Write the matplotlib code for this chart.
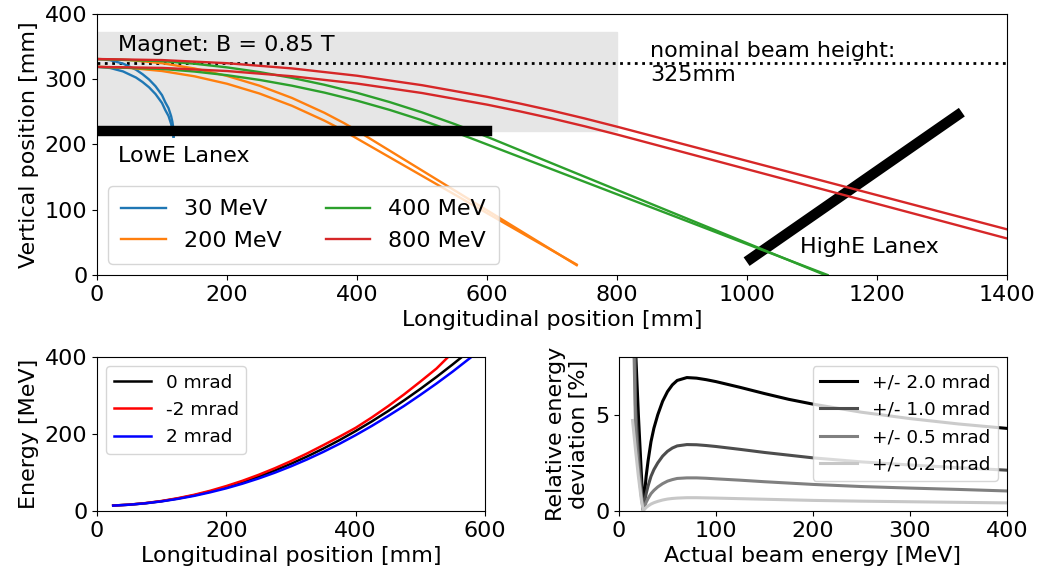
import numpy as np
import matplotlib
matplotlib.use("Agg")
import matplotlib.pyplot as plt
from matplotlib.patches import Rectangle

plt.rcParams["font.size"] = 16
plt.rcParams["font.family"] = ["DejaVu Sans"]

# --- top panel: electron trajectories (two rays per energy) ---
e30_x_hi = [0, 20, 40, 60, 70, 80, 90, 100, 105, 110, 114, 116, 117.5, 118]
e30_y_hi = [331, 329.3, 324.0, 314.6, 307.8, 299.7, 289.3, 275.6, 264.8, 255.7, 243.5, 234.6, 223.9, 212]
e30_x_lo = [0, 20, 40, 60, 70, 80, 90, 100, 105, 110, 114, 116, 117.5]
e30_y_lo = [319, 317.3, 312.0, 302.6, 295.8, 287.7, 277.3, 263.6, 252.8, 243.7, 231.5, 222.6, 211.9]

e200_x_hi = [0, 50, 100, 150, 200, 250, 300, 350, 380, 390, 402, 738]
e200_y_hi = [331, 329.4, 324.6, 316.5, 305.1, 290.1, 271.3, 248.5, 232.8, 227.1, 220, 15]
e200_x_lo = [0, 50, 100, 150, 200, 250, 300, 350, 365, 381, 738]
e200_y_lo = [319, 317.4, 312.6, 304.5, 293.1, 278.1, 259.3, 236.5, 228.8, 220, 16]

e400_x_hi = [0, 100, 150, 200, 250, 300, 350, 400, 450, 500, 550, 580, 1120]
e400_y_hi = [331, 327.8, 323.8, 318.2, 311.0, 302.1, 291.5, 279.2, 265.1, 249.2, 231.4, 220, 0]
e400_x_lo = [0, 100, 150, 200, 250, 300, 350, 400, 450, 500, 548, 1124]
e400_y_lo = [319, 315.8, 311.8, 306.2, 299.0, 290.1, 279.5, 267.2, 253.1, 237.2, 220, 0]

e800_x = [0, 100, 200, 300, 400, 500, 600, 650, 700, 750, 800, 1400]
e800_y_hi = [331, 329.4, 324.6, 316.6, 305.4, 290.9, 273.1, 262.9, 251.9, 240.0, 227.3, 70]
e800_y_lo = [319, 317.4, 312.6, 304.6, 293.4, 278.9, 261.1, 250.9, 239.9, 228.0, 215.3, 56]

magnet_x = [0, 800]
magnet_y = [220, 372]
beam_height = 325
lowe_x = [0, 600]
lowe_y = [220, 220]
highe_x = [1006, 1324]
highe_y = [25, 245]

# --- bottom left: energy vs position on LowE lanex ---
pos_0 = [25, 50, 75, 100, 125, 150, 175, 200, 225, 250, 275, 300, 325, 350,
         375, 400, 425, 450, 475, 500, 525, 550, 565]
en_0 = [14.2, 16.4, 20.2, 25.5, 32.4, 40.7, 50.6, 62.0, 74.9, 89.3, 105.2, 122.7,
        141.6, 162.1, 184.1, 207.7, 232.7, 259.3, 287.4, 317.0, 348.1, 380.7, 401]
pos_m2 = [25, 50, 75, 100, 125, 150, 175, 200, 225, 250, 275, 300, 325, 350,
          375, 400, 425, 450, 475, 500, 525, 543]
en_m2 = [14, 16.5, 20.5, 26, 33.3, 42, 52.5, 64.8, 78.5, 94, 111, 129.5, 149.5,
         171, 193, 216, 243, 272, 303, 336, 370, 400]
pos_p2 = [25, 50, 75, 100, 125, 150, 175, 200, 225, 250, 275, 300, 325, 350,
          375, 400, 425, 450, 475, 500, 525, 550, 579]
en_p2 = [14, 16.3, 20, 25, 31.5, 39.2, 48.5, 59, 71, 84.5, 99.5, 116, 134, 153.5,
         174.5, 197, 221, 246.5, 273, 301.5, 331, 362, 400]

# --- bottom right: relative energy deviation ---
beam_e = [14, 17, 20, 23, 25, 26, 28, 30, 33, 36, 40, 45, 50, 55, 60, 70, 80,
          90, 100, 125, 150, 175, 200, 250, 300, 350, 400]
dev_20 = [60, 8.5, 5.0, 2.0, 0.1, 0.7, 1.8, 2.6, 3.6, 4.3, 5.0, 5.7, 6.2, 6.55,
          6.78, 6.93, 6.9, 6.82, 6.72, 6.42, 6.1, 5.8, 5.55, 5.13, 4.8, 4.52, 4.29]
dev_10 = [30, 5.5, 3.0, 1.2, 0.05, 0.35, 0.9, 1.3, 1.8, 2.15, 2.5, 2.85, 3.1,
          3.27, 3.38, 3.45, 3.44, 3.4, 3.35, 3.2, 3.04, 2.9, 2.76, 2.55, 2.39,
          2.25, 2.12]
dev_05 = [12, 4.5, 2.2, 0.8, 0.03, 0.18, 0.45, 0.65, 0.9, 1.07, 1.25, 1.42, 1.55,
          1.63, 1.69, 1.72, 1.72, 1.7, 1.67, 1.6, 1.52, 1.45, 1.38, 1.27, 1.19,
          1.12, 1.04]
dev_02 = [4.7, 3.2, 1.8, 0.6, 0.02, 0.07, 0.18, 0.26, 0.36, 0.43, 0.5, 0.57,
          0.62, 0.65, 0.67, 0.69, 0.69, 0.68, 0.67, 0.64, 0.61, 0.58, 0.55, 0.51,
          0.48, 0.45, 0.42]


def main():
    fig = plt.figure(figsize=(10.41, 5.81), dpi=100)

    ax = fig.add_axes([0.0932, 0.5267, 0.8741, 0.4492])
    ax.add_patch(Rectangle((magnet_x[0], magnet_y[0]), magnet_x[1] - magnet_x[0],
                           magnet_y[1] - magnet_y[0], color="0.9", zorder=0))
    ax.axhline(beam_height, color="k", linestyle=":", linewidth=2)
    ax.plot(highe_x, highe_y, color="k", linewidth=7.5)

    pairs = [
        ("30 MeV", "C0", e30_x_hi, e30_y_hi, e30_x_lo, e30_y_lo),
        ("200 MeV", "C1", e200_x_hi, e200_y_hi, e200_x_lo, e200_y_lo),
        ("400 MeV", "C2", e400_x_hi, e400_y_hi, e400_x_lo, e400_y_lo),
        ("800 MeV", "C3", e800_x, e800_y_hi, e800_x, e800_y_lo),
    ]
    for label, c, xh, yh, xl, yl in pairs:
        ax.plot(xh, yh, color=c, linewidth=1.7, label=label)
        ax.plot(xl, yl, color=c, linewidth=1.7)

    ax.plot(lowe_x, lowe_y, color="k", linewidth=7.5)

    ax.text(33, 352, "Magnet: B = 0.85 T", va="center")
    ax.text(33, 183, "LowE Lanex", va="center")
    ax.text(1082, 43, "HighE Lanex", va="center")
    ax.text(851, 325, "nominal beam height:\n325mm", va="center", linespacing=1.25)

    ax.set_xlim(0, 1400)
    ax.set_ylim(0, 400)
    ax.set_xlabel("Longitudinal position [mm]")
    ax.set_ylabel("Vertical position [mm]")
    ax.legend(loc="lower left", ncol=2, borderpad=0.6)

    # energy calibration
    ax2 = fig.add_axes([0.0932, 0.1205, 0.3727, 0.2651])
    ax2.plot(pos_0, en_0, color="k", linewidth=1.8, label="0 mrad")
    ax2.plot(pos_m2, en_m2, color="r", linewidth=1.8, label="-2 mrad")
    ax2.plot(pos_p2, en_p2, color="b", linewidth=1.8, label="2 mrad")
    ax2.set_xlim(0, 600)
    ax2.set_ylim(0, 400)
    ax2.set_yticks([0, 200, 400])
    ax2.set_xlabel("Longitudinal position [mm]")
    ax2.set_ylabel("Energy [MeV]")
    ax2.legend(loc="upper left", fontsize="small")

    # relative deviation
    ax3 = fig.add_axes([0.5946, 0.1205, 0.3727, 0.2651])
    ax3.plot(beam_e, dev_20, color="k", linewidth=2.2, label="+/- 2.0 mrad")
    ax3.plot(beam_e, dev_10, color="0.3", linewidth=2.2, label="+/- 1.0 mrad")
    ax3.plot(beam_e, dev_05, color="0.5", linewidth=2.2, label="+/- 0.5 mrad")
    ax3.plot(beam_e, dev_02, color="0.78", linewidth=2.2, label="+/- 0.2 mrad")
    ax3.set_xlim(0, 400)
    ax3.set_ylim(0, 8)
    ax3.set_yticks([0, 5])
    ax3.set_xlabel("Actual beam energy [MeV]")
    ax3.set_ylabel("Relative energy\ndeviation [%]")
    ax3.legend(loc="upper right", fontsize="small")

    fig.savefig("out.png", dpi=100)


if __name__ == "__main__":
    main()
